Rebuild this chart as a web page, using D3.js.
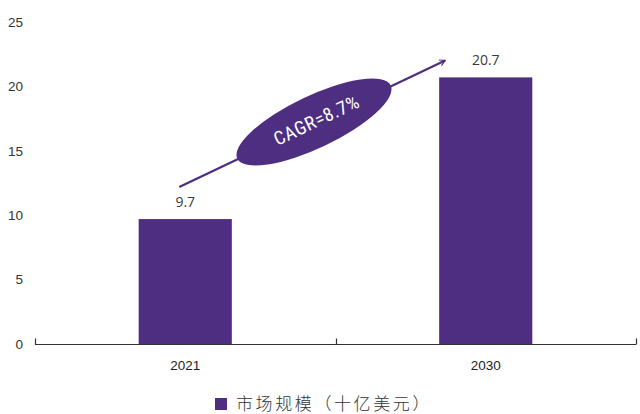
<!DOCTYPE html>
<html>
<head>
<meta charset="utf-8">
<script src="https://cdn.jsdelivr.net/npm/d3@7"></script>
<style>
  html, body { margin: 0; padding: 0; background: #fff; }
  svg { display: block; }
</style>
</head>
<body>
<svg id="chart" width="640" height="414"></svg>
<script>
// Market size data (billion USD)
const years = ["2021", "2030"];
const marketSize = [9.7, 20.7];
const yTicks = [0, 5, 10, 15, 20, 25];
const legendLabel = "市场规模（十亿美元）";
const cagrLabel = "CAGR=8.7%";

const purple = "#4e2e80";
const svg = d3.select("#chart");

const margin = { left: 35, right: 4, top: 22, bottom: 70 };
const W = 640, H = 414;
const plotBottom = 344;

const x = d3.scaleBand()
  .domain(years)
  .range([margin.left, W - margin.right])
  .paddingInner(0.69)
  .paddingOuter(0.345);

const y = d3.scaleLinear()
  .domain([0, 25])
  .range([plotBottom, margin.top]);

// Y tick labels (no axis line)
const yAxis = d3.axisLeft(y).tickValues(yTicks).tickSize(0).tickPadding(0);
const gy = svg.append("g").attr("transform", "translate(23,0)").call(yAxis);
gy.select(".domain").remove();
gy.selectAll("text")
  .attr("font-family", "'Liberation Sans', Arial, sans-serif")
  .attr("font-size", 13.5)
  .attr("fill", "#333");

// Bars
svg.append("g").selectAll("rect")
  .data(years)
  .join("rect")
  .attr("x", d => x(d))
  .attr("width", x.bandwidth())
  .attr("y", (d, i) => y(marketSize[i]))
  .attr("height", (d, i) => plotBottom - y(marketSize[i]))
  .attr("fill", purple);

// Value labels
svg.append("g").selectAll("text")
  .data(years)
  .join("text")
  .attr("x", d => x(d) + x.bandwidth() / 2)
  .attr("y", (d, i) => y(marketSize[i]) - 12)
  .attr("text-anchor", "middle")
  .attr("font-family", "'Open Sans', 'Liberation Sans', sans-serif")
  .attr("font-size", 14)
  .attr("fill", "#3a3a3a")
  .text((d, i) => marketSize[i]);

// X axis: baseline with category boundary ticks pointing up
const gx = svg.append("g").attr("transform", `translate(0,${plotBottom + 0.5})`);
const xAxis = d3.axisBottom(x).tickSize(0).tickPadding(16);
gx.call(xAxis);
gx.select(".domain").remove();
gx.selectAll("text")
  .attr("font-family", "'Liberation Sans', Arial, sans-serif")
  .attr("font-size", 13.5)
  .attr("fill", "#222");
const x0 = x.range()[0], x1 = x.range()[1];
gx.append("line").attr("x1", x0).attr("x2", x1).attr("stroke", "#333").attr("stroke-width", 1.2);
const bounds = [x0, (x(years[0]) + x.bandwidth() + x(years[1])) / 2, x1];
gx.selectAll("line.bound")
  .data(bounds)
  .join("line")
  .attr("class", "bound")
  .attr("x1", d => Math.round(d) + 0.5).attr("x2", d => Math.round(d) + 0.5)
  .attr("y1", 0).attr("y2", -6)
  .attr("stroke", "#333").attr("stroke-width", 1.2);

// Growth arrow from the first bar label to the second
const ax0 = x(years[0]) + x.bandwidth() / 2 - 6, ay0 = y(marketSize[0]) - 32;
const ax1 = x(years[1]) + 6, ay1 = y(marketSize[1]) - 17;
svg.append("defs").append("marker")
  .attr("id", "arrow")
  .attr("viewBox", "0 0 10 10")
  .attr("refX", 9).attr("refY", 5)
  .attr("markerWidth", 7).attr("markerHeight", 7)
  .attr("markerUnits", "userSpaceOnUse")
  .attr("orient", "auto")
  .append("path")
  .attr("d", "M1,0.5 L9,5 L1,9.5")
  .attr("fill", "none")
  .attr("stroke", purple)
  .attr("stroke-width", 1.6);

svg.append("line")
  .attr("x1", ax0).attr("y1", ay0)
  .attr("x2", ax1).attr("y2", ay1)
  .attr("stroke", purple)
  .attr("stroke-width", 2.2)
  .attr("marker-end", "url(#arrow)");

// CAGR ellipse badge
const angle = Math.atan2(ay1 - ay0, ax1 - ax0) * 180 / Math.PI;
const cx = 314, cy = 122;
const badge = svg.append("g").attr("transform", `translate(${cx},${cy}) rotate(${angle})`);
badge.append("ellipse").attr("rx", 85).attr("ry", 26).attr("fill", purple);
badge.append("text")
  .attr("x", 3).attr("y", 6)
  .attr("text-anchor", "middle")
  .attr("font-family", "'Liberation Sans Narrow', 'Roboto', sans-serif")
  .attr("font-stretch", "condensed")
  .attr("font-size", 19)
  .attr("letter-spacing", 0.5)
  .attr("fill", "#fff")
  .text(cagrLabel);

// Legend
const legend = svg.append("g").attr("transform", "translate(215,398)");
legend.append("rect").attr("width", 12).attr("height", 12).attr("fill", purple);
legend.append("text")
  .attr("x", 21).attr("y", 12)
  .attr("font-family", "'Noto Sans CJK SC', sans-serif")
  .attr("font-size", 17)
  .attr("font-weight", 300)
  .attr("letter-spacing", 2.6)
  .attr("fill", "#333")
  .text(legendLabel);
</script>
</body>
</html>
